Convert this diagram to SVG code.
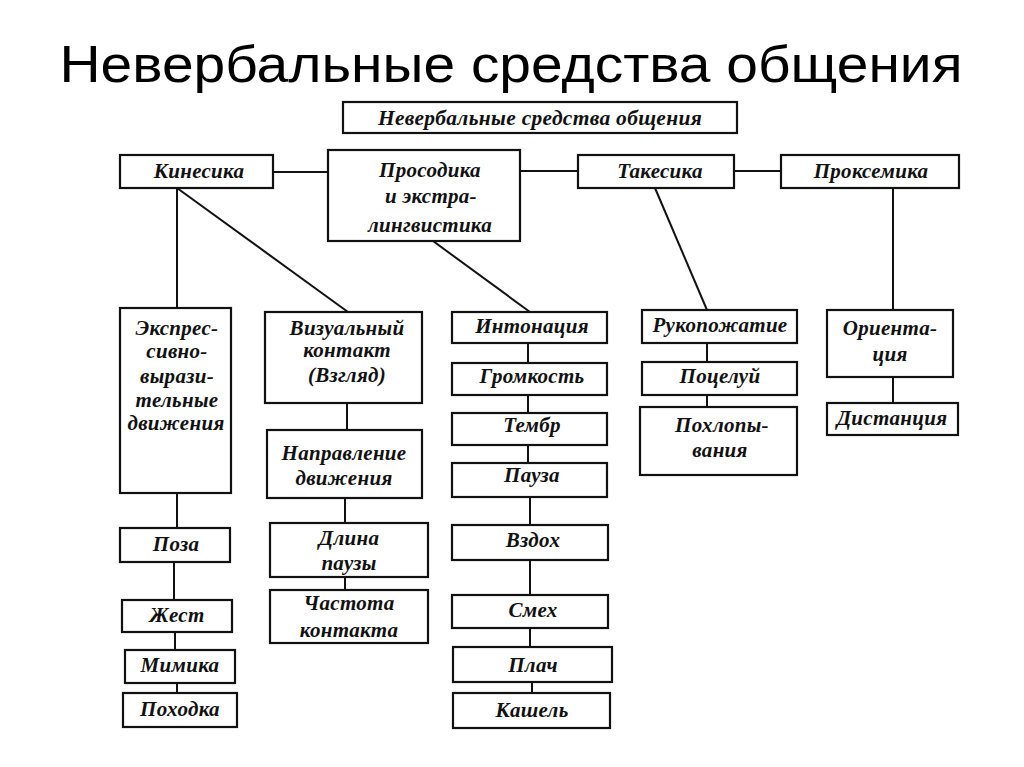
<svg xmlns="http://www.w3.org/2000/svg" width="1024" height="767" viewBox="0 0 1024 767">
<style>
.bg{fill:#fff}
.box{fill:#fff;stroke:#111;stroke-width:2.2}
.ln{stroke:#111;stroke-width:2;fill:none}
.t{font-family:"Liberation Serif","DejaVu Serif",serif;font-weight:bold;font-style:italic;font-size:21px;letter-spacing:0.3px;fill:#111;text-anchor:middle}
.title{font-family:"Liberation Sans",Arial,sans-serif;font-size:52px;fill:#000;text-anchor:middle}
</style>
<rect class="bg" x="0" y="0" width="1024" height="767"/>
<text class="title" x="511" y="82" textLength="903" lengthAdjust="spacingAndGlyphs">Невербальные средства общения</text>

<g id="connectors">
<line class="ln" x1="273" y1="172" x2="328" y2="172"/>
<line class="ln" x1="520" y1="171" x2="578" y2="171"/>
<line class="ln" x1="734" y1="171" x2="781" y2="171"/>
<line class="ln" x1="177" y1="188" x2="177" y2="308"/>
<line class="ln" x1="177" y1="188" x2="348" y2="312"/>
<line class="ln" x1="433" y1="241" x2="530" y2="312"/>
<line class="ln" x1="655" y1="188" x2="707" y2="310"/>
<line class="ln" x1="893" y1="188" x2="893" y2="310"/>
<line class="ln" x1="177" y1="493" x2="177" y2="528"/>
<line class="ln" x1="174" y1="562" x2="174" y2="600"/>
<line class="ln" x1="175" y1="632" x2="175" y2="650"/>
<line class="ln" x1="177" y1="683" x2="177" y2="693"/>
<line class="ln" x1="347" y1="403" x2="347" y2="430"/>
<line class="ln" x1="345" y1="498" x2="345" y2="523"/>
<line class="ln" x1="345" y1="577" x2="345" y2="590"/>
<line class="ln" x1="528" y1="343" x2="528" y2="363"/>
<line class="ln" x1="528" y1="395" x2="528" y2="413"/>
<line class="ln" x1="528" y1="445" x2="528" y2="463"/>
<line class="ln" x1="530" y1="497" x2="530" y2="525"/>
<line class="ln" x1="530" y1="560" x2="530" y2="595"/>
<line class="ln" x1="530" y1="628" x2="530" y2="647"/>
<line class="ln" x1="532" y1="682" x2="532" y2="693"/>
<line class="ln" x1="707" y1="343" x2="707" y2="362"/>
<line class="ln" x1="707" y1="395" x2="707" y2="407"/>
<line class="ln" x1="893" y1="377" x2="893" y2="403"/>
</g>

<g id="n-root"><rect class="box" x="343" y="102" width="394" height="31"/><text class="t" x="540" y="125" textLength="324" lengthAdjust="spacingAndGlyphs">Невербальные средства общения</text></g>
<g id="n-kinesika"><rect class="box" x="120" y="155" width="153" height="33"/><text class="t" x="199" y="178">Кинесика</text></g>
<g id="n-prosodika"><rect class="box" x="328" y="150" width="192" height="91"/><text class="t" x="430" y="177">Просодика</text><text class="t" x="431" y="203">и экстра-</text><text class="t" x="430" y="232">лингвистика</text></g>
<g id="n-takesika"><rect class="box" x="578" y="155" width="156" height="33"/><text class="t" x="660" y="178">Такесика</text></g>
<g id="n-proksemika"><rect class="box" x="781" y="155" width="178" height="33"/><text class="t" x="871" y="178">Проксемика</text></g>

<g id="n-express"><rect class="box" x="120" y="308" width="111" height="185"/><text class="t" x="177" y="335">Экспрес-</text><text class="t" x="177" y="358">сивно-</text><text class="t" x="177" y="383">вырази-</text><text class="t" x="177" y="407">тельные</text><text class="t" x="176" y="430">движения</text></g>
<g id="n-visual"><rect class="box" x="265" y="312" width="157" height="91"/><text class="t" x="347" y="335">Визуальный</text><text class="t" x="347" y="357">контакт</text><text class="t" x="347" y="382">(Взгляд)</text></g>
<g id="n-napravlenie"><rect class="box" x="267" y="430" width="155" height="68"/><text class="t" x="344" y="460">Направление</text><text class="t" x="344" y="485">движения</text></g>
<g id="n-poza"><rect class="box" x="120" y="528" width="110" height="34"/><text class="t" x="176" y="551">Поза</text></g>
<g id="n-zhest"><rect class="box" x="122" y="600" width="110" height="32"/><text class="t" x="177" y="622">Жест</text></g>
<g id="n-mimika"><rect class="box" x="125" y="650" width="110" height="33"/><text class="t" x="180" y="672">Мимика</text></g>
<g id="n-pokhodka"><rect class="box" x="123" y="693" width="114" height="34"/><text class="t" x="180" y="716">Походка</text></g>
<g id="n-dlina"><rect class="box" x="270" y="523" width="158" height="54"/><text class="t" x="349" y="545">Длина</text><text class="t" x="349" y="570">паузы</text></g>
<g id="n-chastota"><rect class="box" x="270" y="590" width="158" height="53"/><text class="t" x="349" y="610">Частота</text><text class="t" x="349" y="637">контакта</text></g>

<g id="n-intonatsiya"><rect class="box" x="452" y="312" width="155" height="31"/><text class="t" x="532" y="333">Интонация</text></g>
<g id="n-gromkost"><rect class="box" x="452" y="363" width="155" height="32"/><text class="t" x="532" y="383">Громкость</text></g>
<g id="n-tembr"><rect class="box" x="452" y="413" width="155" height="32"/><text class="t" x="532" y="432">Тембр</text></g>
<g id="n-pauza"><rect class="box" x="452" y="463" width="155" height="34"/><text class="t" x="532" y="482">Пауза</text></g>
<g id="n-vzdokh"><rect class="box" x="452" y="525" width="156" height="35"/><text class="t" x="533" y="547">Вздох</text></g>
<g id="n-smekh"><rect class="box" x="452" y="595" width="156" height="33"/><text class="t" x="533" y="617">Смех</text></g>
<g id="n-plach"><rect class="box" x="453" y="647" width="159" height="35"/><text class="t" x="533" y="672">Плач</text></g>
<g id="n-kashel"><rect class="box" x="453" y="693" width="157" height="35"/><text class="t" x="532" y="717">Кашель</text></g>

<g id="n-rukopozhatie"><rect class="box" x="642" y="310" width="155" height="33"/><text class="t" x="720" y="332">Рукопожатие</text></g>
<g id="n-potseluy"><rect class="box" x="642" y="362" width="155" height="33"/><text class="t" x="720" y="383">Поцелуй</text></g>
<g id="n-pokhlopyvaniya"><rect class="box" x="640" y="407" width="157" height="68"/><text class="t" x="722" y="432">Похлопы-</text><text class="t" x="720" y="457">вания</text></g>
<g id="n-orientatsiya"><rect class="box" x="827" y="310" width="126" height="67"/><text class="t" x="890" y="335">Ориента-</text><text class="t" x="890" y="361">ция</text></g>
<g id="n-distantsiya"><rect class="box" x="827" y="403" width="131" height="32"/><text class="t" x="892" y="425">Дистанция</text></g>
</svg>
